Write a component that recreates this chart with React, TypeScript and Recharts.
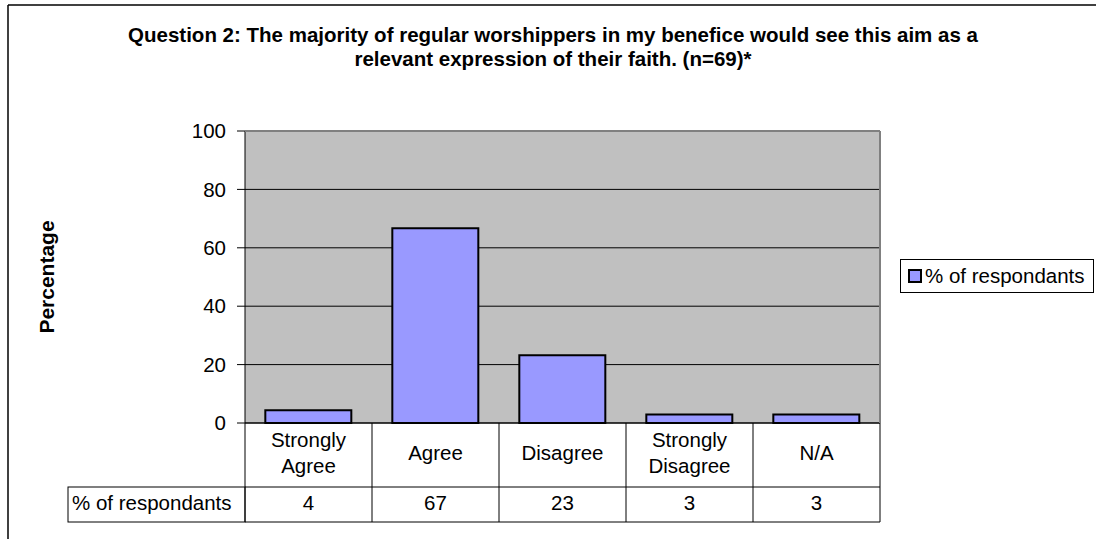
import { BarChart, Bar, XAxis, YAxis, CartesianGrid } from "recharts";

const categories = ["Strongly Agree", "Agree", "Disagree", "Strongly Disagree", "N/A"];
const respondents = [4.35, 66.67, 23.19, 2.9, 2.9];
const tableValues = ["4", "67", "23", "3", "3"];
const yTicks = [0, 20, 40, 60, 80, 100];
const seriesName = "% of respondants";

const chartData = categories.map((category, i) => ({
  category,
  value: respondents[i],
  label: tableValues[i],
}));

const FONT = "'Liberation Sans', Arial, sans-serif";
const FS = 20.5;
const PLOT_LEFT = 245;
const PLOT_RIGHT = 880;
const PLOT_TOP = 131;
const PLOT_BOTTOM = 423;
const COL_W = (PLOT_RIGHT - PLOT_LEFT) / categories.length;

function TableTick(props: any) {
  const { x, payload, index } = props;
  const axisY = PLOT_BOTTOM;
  const rowY = 487;
  const bottomY = 522;
  const left = x - COL_W / 2;
  const right = x + COL_W / 2;
  const words = String(payload.value).split(" ");
  const row = chartData[index];
  return (
    <g fontFamily={FONT} fontSize={FS} fill="#000">
      <line x1={left} y1={axisY} x2={left} y2={bottomY} stroke="#000" />
      {index === categories.length - 1 && (
        <line x1={right} y1={axisY} x2={right} y2={bottomY} stroke="#000" />
      )}
      <line x1={left} y1={rowY} x2={right} y2={rowY} stroke="#000" />
      <line x1={left} y1={bottomY} x2={right} y2={bottomY} stroke="#000" />
      {words.length === 1 ? (
        <text x={x} y={460} textAnchor="middle">
          {words[0]}
        </text>
      ) : (
        <text x={x} textAnchor="middle">
          <tspan x={x} y={447}>{words[0]}</tspan>
          <tspan x={x} y={473}>{words.slice(1).join(" ")}</tspan>
        </text>
      )}
      <text x={x} y={510} textAnchor="middle">
        {row ? row.label : ""}
      </text>
      {index === 0 && (
        <g>
          <rect x={68} y={rowY} width={left - 68} height={bottomY - rowY} fill="none" stroke="#000" />
          <text x={72} y={510} textAnchor="start">
            {seriesName}
          </text>
        </g>
      )}
    </g>
  );
}

export default function App() {
  return (
    <div style={{ position: "absolute", left: 0, top: 0, width: 1096, height: 539, background: "#fff", overflow: "hidden" }}>
      <svg width={1096} height={539} style={{ position: "absolute", left: 0, top: 0 }}>
        <line x1={8} y1={5} x2={1096} y2={5} stroke="#000" strokeWidth={1.5} />
        <line x1={8} y1={5} x2={8} y2={539} stroke="#000" strokeWidth={1.5} />
        <text x={553} y={42} textAnchor="middle" fontFamily={FONT} fontSize={FS} fontWeight="bold">
          Question 2: The majority of regular worshippers in my benefice would see this aim as a
        </text>
        <text x={553} y={66} textAnchor="middle" fontFamily={FONT} fontSize={FS} fontWeight="bold">
          relevant expression of their faith. (n=69)*
        </text>
        <text
          x={0}
          y={0}
          transform="translate(54,277) rotate(-90)"
          textAnchor="middle"
          fontFamily={FONT}
          fontSize={21}
          fontWeight="bold"
        >
          Percentage
        </text>
      </svg>
      <div style={{ position: "absolute", left: 0, top: 0 }}>
        <BarChart
          width={1096}
          height={539}
          data={chartData}
          margin={{ top: PLOT_TOP, right: 1096 - PLOT_RIGHT, bottom: 17, left: PLOT_LEFT - 80 }}
          barCategoryGap="16%"
        >
          <CartesianGrid vertical={false} horizontal stroke="#000" fill="#C0C0C0" />
          <XAxis
            dataKey="category"
            height={99}
            axisLine={{ stroke: "#000" }}
            tickLine={false}
            interval={0}
            tick={<TableTick />}
          />
          <YAxis
            domain={[0, 100]}
            ticks={yTicks}
            width={80}
            axisLine={{ stroke: "#000" }}
            tickLine={{ stroke: "#000" }}
            tickSize={8}
            tickMargin={11}
            tick={{ fill: "#000", fontSize: FS, fontFamily: FONT }}
          />
          <Bar
            dataKey="value"
            name={seriesName}
            fill="#9999FF"
            stroke="#000"
            strokeWidth={2}
            isAnimationActive={false}
          />
        </BarChart>
      </div>
      <svg width={1096} height={539} style={{ position: "absolute", left: 0, top: 0, pointerEvents: "none" }}>
        <line x1={PLOT_LEFT} y1={PLOT_TOP} x2={PLOT_RIGHT} y2={PLOT_TOP} stroke="#808080" strokeWidth={2} />
        <line x1={PLOT_RIGHT} y1={PLOT_TOP} x2={PLOT_RIGHT} y2={PLOT_BOTTOM} stroke="#808080" strokeWidth={2} />
      </svg>
      <div
        style={{
          position: "absolute",
          left: 900,
          top: 259,
          height: 34,
          boxSizing: "border-box",
          border: "1px solid #000",
          background: "#fff",
          fontFamily: FONT,
          fontSize: FS,
          padding: "0 8px 0 7px",
          display: "flex",
          alignItems: "center",
          whiteSpace: "nowrap",
        }}
      >
        <span
          style={{
            display: "inline-block",
            width: 10,
            height: 10,
            background: "#9999FF",
            border: "2px solid #000",
            marginRight: 3,
          }}
        />
        {seriesName}
      </div>
    </div>
  );
}
